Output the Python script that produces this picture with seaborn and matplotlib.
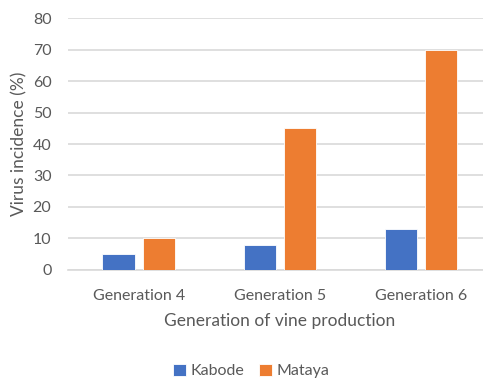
import matplotlib
matplotlib.use("Agg")
import matplotlib.pyplot as plt
import seaborn as sns
import pandas as pd

generations = ["Generation 4", "Generation 5", "Generation 6"]
varieties = ["Kabode", "Mataya"]
kabode = [5, 8, 13]
mataya = [10, 45, 70]
yticks = [0, 10, 20, 30, 40, 50, 60, 70, 80]

df = pd.DataFrame({
    "Generation": generations * 2,
    "Variety": [varieties[0]] * 3 + [varieties[1]] * 3,
    "Incidence": kabode + mataya,
})

sns.set_theme(style="white")
plt.rcParams["font.family"] = ["Lato", "DejaVu Sans"]
text_color = "#595959"
grid_color = "#D9D9D9"

fig = plt.figure(figsize=(4.83, 3.8), dpi=100)
ax = fig.add_axes([0.141, 0.2895, 0.8766, 0.6631])

sns.barplot(data=df, x="Generation", y="Incidence", hue="Variety",
            palette={"Kabode": "#4472C4", "Mataya": "#ED7D31"},
            width=0.57, gap=0.2, edgecolor="white", linewidth=0.6,
            saturation=1, ax=ax, zorder=3)

ax.set_ylim(0, 80)
ax.set_yticks(yticks)
ax.set_xlim(-0.5, 2.5)
ax.yaxis.grid(True, color=grid_color, linewidth=1.2, zorder=0)
ax.set_axisbelow(True)
for side in ["top", "right", "left"]:
    ax.spines[side].set_visible(False)
ax.spines["bottom"].set_color(grid_color)
ax.spines["bottom"].set_linewidth(1.2)
ax.tick_params(axis="both", length=0, labelsize=11.5, colors=text_color)
ax.tick_params(axis="x", pad=14)
ax.tick_params(axis="y", pad=12)

ax.set_xlabel("Generation of vine production", fontsize=12.5, color=text_color, labelpad=7)
ax.set_ylabel("Virus incidence (%)", fontsize=12.5, color=text_color, labelpad=4)

handles, labels = ax.get_legend_handles_labels()
ax.legend_.remove()
fig.legend(handles, labels, loc="center", bbox_to_anchor=(0.52, 1 - 371 / 380),
           ncol=2, frameon=False, fontsize=11.5, labelcolor=text_color,
           handlelength=0.8, handleheight=0.8, handletextpad=0.3, columnspacing=0.9)

fig.savefig("out.png", dpi=100)
